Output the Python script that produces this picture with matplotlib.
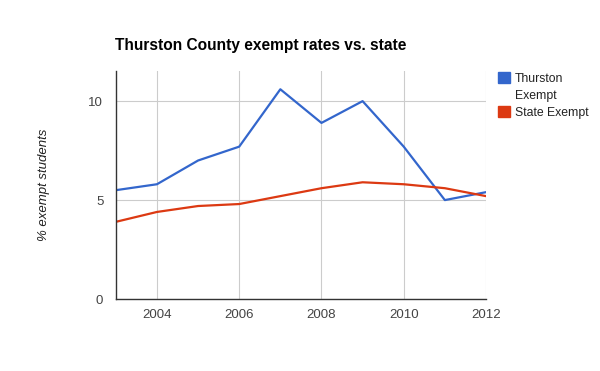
import matplotlib

matplotlib.use("Agg")

import matplotlib.pyplot as plt
from matplotlib.patches import Rectangle

years = [2003, 2004, 2005, 2006, 2007, 2008, 2009, 2010, 2011, 2012]
thurston_exempt = [5.5, 5.8, 7.0, 7.7, 10.6, 8.9, 10.0, 7.7, 5.0, 5.4]
state_exempt = [3.9, 4.4, 4.7, 4.8, 5.2, 5.6, 5.9, 5.8, 5.6, 5.2]
series_names = ["Thurston\nExempt", "State Exempt"]
x_ticks = [2004, 2006, 2008, 2010, 2012]
y_ticks = [0, 5, 10]

plt.rcParams["font.family"] = ["Liberation Sans", "DejaVu Sans"]

fig = plt.figure(figsize=(6.0, 3.71), dpi=100)
ax = fig.add_axes([0.193, 0.194, 0.617, 0.615])

colors = ["#3366cc", "#dc3912"]
for vals, color in zip([thurston_exempt, state_exempt], colors):
    ax.plot(years, vals, color=color, linewidth=1.6, solid_joinstyle="round", zorder=3)

ax.set_xlim(2003, 2012)
ax.set_ylim(0, 11.53)
ax.set_xticks(x_ticks)
ax.set_yticks(y_ticks)
ax.grid(True, color="#cccccc", linewidth=0.8, zorder=0)
ax.tick_params(length=0, labelsize=9.5, colors="#444444", pad=9)
ax.tick_params(axis="x", pad=7)
for side in ("top", "right"):
    ax.spines[side].set_visible(False)
for side in ("left", "bottom"):
    ax.spines[side].set_color("#333333")
    ax.spines[side].set_linewidth(1.0)
    ax.spines[side].set_zorder(4)

ax.set_ylabel("% exempt students", fontsize=9.5, style="italic", color="#222222")
ax.yaxis.set_label_coords(-0.177, 0.5)
fig.text(115 / 600, 1 - 50 / 371, "Thurston County exempt rates vs. state",
         fontsize=11.2, fontweight="bold", ha="left", va="baseline")

# legend on the right
legend_tops = [72, 106]
for name, color, top in zip(series_names, colors, legend_tops):
    fig.patches.append(Rectangle((498 / 600, 1 - (top + 11) / 371), 12 / 600, 11 / 371,
                                 transform=fig.transFigure, color=color, figure=fig))
    fig.text(515 / 600, 1 - (top + 1) / 371, name, fontsize=8.8, color="#222222",
             ha="left", va="top", linespacing=1.5)

fig.savefig("out.png", dpi=100)
